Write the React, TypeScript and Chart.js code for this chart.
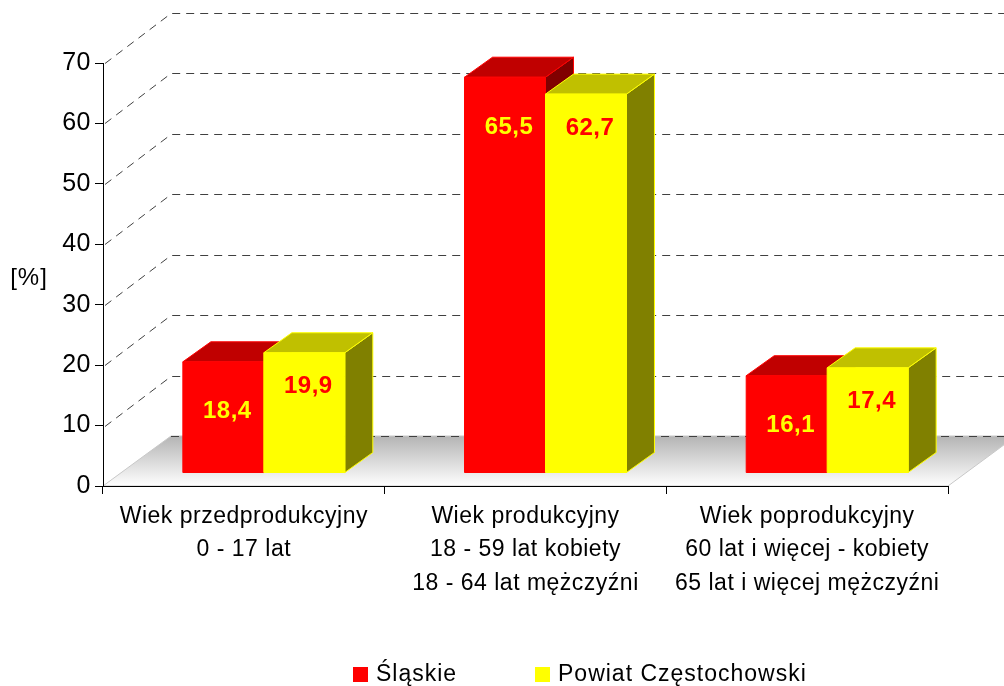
import React, { useEffect, useRef } from 'react';
import { Chart, registerables } from 'chart.js';

Chart.register(...registerables);

const categories: string[][] = [
  ['Wiek przedprodukcyjny', '0 - 17 lat'],
  ['Wiek produkcyjny', '18 - 59 lat kobiety', '18 - 64 lat mężczyźni'],
  ['Wiek poprodukcyjny', '60 lat i więcej - kobiety', '65 lat i więcej mężczyźni'],
];
const seriesNames = ['Śląskie', 'Powiat Częstochowski'];
const slaskieValues = [18.4, 65.5, 16.1];
const powiatValues = [19.9, 62.7, 17.4];
const yMin = 0;
const yMax = 70;
const yStep = 10;
const yAxisTitle = '[%]';

const FONT = "'Liberation Sans', Arial, sans-serif";

// colours per series: front, top, side, label text
const seriesStyles = [
  { front: '#FF0000', top: '#C00000', side: '#800000', text: '#FFFF00', labelOffset: 50 },
  { front: '#FFFF00', top: '#C0C000', side: '#808000', text: '#FF0000', labelOffset: 34 },
];

const WALL_DX = 68;
const WALL_DY = -50;
const BAR_SHIFT_X = 20;
const BAR_SHIFT_Y = -13;
const BAR_DX = 28;
const BAR_DY = -20;
const LEGEND_X = [353, 535];
const LEGEND_Y = 674;

const fmt = (v: number) => v.toFixed(1).replace('.', ',');

const threeD = {
  id: 'threeD',
  beforeDraw(chart: any) {
    const { ctx, chartArea: a } = chart;
    const y = chart.scales.y;
    ctx.save();
    const grad = ctx.createLinearGradient(0, a.bottom + WALL_DY, 0, a.bottom);
    grad.addColorStop(0, '#b4b4b4');
    grad.addColorStop(1, '#ffffff');
    ctx.beginPath();
    ctx.moveTo(a.left, a.bottom);
    ctx.lineTo(a.right, a.bottom);
    ctx.lineTo(a.right + WALL_DX, a.bottom + WALL_DY);
    ctx.lineTo(a.left + WALL_DX, a.bottom + WALL_DY);
    ctx.closePath();
    ctx.fillStyle = grad;
    ctx.fill();
    ctx.strokeStyle = '#c8c8c8';
    ctx.lineWidth = 1;
    ctx.stroke();

    ctx.setLineDash([8, 6]);
    ctx.strokeStyle = '#404040';
    y.ticks.forEach((t: any) => {
      const py = Math.round(y.getPixelForValue(t.value)) + 0.5;
      ctx.beginPath();
      if (t.value !== yMin) {
        ctx.moveTo(a.left + 2, py);
        ctx.lineTo(a.left + WALL_DX, py + WALL_DY);
      } else {
        ctx.moveTo(a.left + WALL_DX, py + WALL_DY);
      }
      ctx.lineTo(chart.width, py + WALL_DY);
      ctx.stroke();
    });
    ctx.restore();
    ctx.letterSpacing = '0.5px';
  },
  beforeDatasetsDraw(chart: any) {
    const ctx = chart.ctx;
    const n = chart.data.labels.length;
    const poly = (pts: number[][], fill: string, stroke: string) => {
      ctx.beginPath();
      ctx.moveTo(pts[0][0], pts[0][1]);
      for (let k = 1; k < pts.length; k++) ctx.lineTo(pts[k][0], pts[k][1]);
      ctx.closePath();
      ctx.fillStyle = fill;
      ctx.fill();
      ctx.strokeStyle = stroke;
      ctx.lineWidth = 1;
      ctx.stroke();
    };
    ctx.save();
    for (let i = 0; i < n; i++) {
      chart.data.datasets.forEach((ds: any, di: number) => {
        const el = chart.getDatasetMeta(di).data[i];
        const st = seriesStyles[di];
        const w = el.width;
        const l = el.x - w / 2 + BAR_SHIFT_X;
        const r = el.x + w / 2 + BAR_SHIFT_X;
        const t = el.y + BAR_SHIFT_Y;
        const b = el.base + BAR_SHIFT_Y;
        poly([[r, t], [r + BAR_DX, t + BAR_DY], [r + BAR_DX, b + BAR_DY], [r, b]], st.side, st.front);
        poly([[l, t], [l + BAR_DX, t + BAR_DY], [r + BAR_DX, t + BAR_DY], [r, t]], st.top, st.front);
        poly([[l, t], [r, t], [r, b], [l, b]], st.front, st.front);
      });
    }
    ctx.restore();
    return false;
  },
  afterDraw(chart: any) {
    const ctx = chart.ctx;
    ctx.save();
    // value labels
    ctx.letterSpacing = '0.5px';
    ctx.font = `bold 24px ${FONT}`;
    ctx.textAlign = 'center';
    ctx.textBaseline = 'middle';
    chart.data.datasets.forEach((ds: any, di: number) => {
      const st = seriesStyles[di];
      chart.getDatasetMeta(di).data.forEach((el: any, i: number) => {
        ctx.fillStyle = st.text;
        ctx.fillText(fmt(ds.data[i]), el.x + BAR_SHIFT_X + 4, el.y + BAR_SHIFT_Y + st.labelOffset);
      });
    });
    // axis title
    ctx.letterSpacing = '1px';
    ctx.font = `24px ${FONT}`;
    ctx.fillStyle = '#000';
    ctx.fillText(yAxisTitle, 29, 278);
    // legend
    ctx.font = `23px ${FONT}`;
    ctx.textAlign = 'left';
    chart.data.datasets.forEach((ds: any, di: number) => {
      const x = LEGEND_X[di];
      ctx.fillStyle = seriesStyles[di].front;
      ctx.fillRect(x, LEGEND_Y - 7, 15, 15);
      ctx.fillStyle = '#000';
      ctx.fillText(ds.label, x + 23, LEGEND_Y + 1);
    });
    ctx.restore();
  },
};

export default function App() {
  const ref = useRef<HTMLCanvasElement | null>(null);
  useEffect(() => {
    if (!ref.current) return;
    const chart = new Chart(ref.current, {
      type: 'bar',
      data: {
        labels: categories as any,
        datasets: [
          { label: seriesNames[0], data: slaskieValues, backgroundColor: seriesStyles[0].front, categoryPercentage: 0.575, barPercentage: 1 },
          { label: seriesNames[1], data: powiatValues, backgroundColor: seriesStyles[1].front, categoryPercentage: 0.575, barPercentage: 1 },
        ],
      },
      options: {
        responsive: false,
        animation: false,
        layout: { padding: { top: 63, left: 0, right: 56, bottom: 0 } },
        plugins: { legend: { display: false }, tooltip: { enabled: false } },
        scales: {
          x: {
            grid: { drawOnChartArea: false, tickLength: 8, color: '#000', offset: true },
            border: { color: '#000', width: 1 },
            ticks: { color: '#000', font: { family: FONT, size: 23, lineHeight: 1.45 }, padding: 6, maxRotation: 0, autoSkip: false },
            afterFit: (s: any) => { s.height = 200; },
          },
          y: {
            min: yMin,
            max: yMax,
            ticks: { stepSize: yStep, color: '#000', font: { family: FONT, size: 25 }, padding: 4 },
            grid: { drawOnChartArea: false, tickLength: 8, color: '#000' },
            border: { color: '#000', width: 1 },
            afterFit: (s: any) => { s.width = 103; },
          },
        },
      },
      plugins: [threeD],
    } as any);
    return () => chart.destroy();
  }, []);
  return (
    <div style={{ position: 'fixed', left: 0, top: 0, width: 1004, height: 686, background: '#fff' }}>
      <canvas ref={ref} width={1004} height={686} style={{ display: 'block' }} />
    </div>
  );
}
